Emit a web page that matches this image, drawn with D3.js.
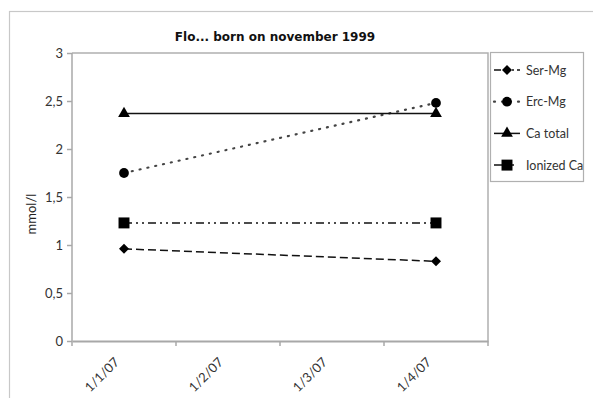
<!DOCTYPE html>
<html><head><meta charset="utf-8">
<script src="https://cdn.jsdelivr.net/npm/d3@7"></script>
<style>body{margin:0;background:#fff}svg{display:block}</style>
</head><body>
<svg id="c" width="593" height="398"></svg>
<script>
const categories = ["1/1/07", "1/2/07", "1/3/07", "1/4/07"];
const serMg = [{d:"1/1/07", v:0.96}, {d:"1/4/07", v:0.83}];
const ercMg = [{d:"1/1/07", v:1.75}, {d:"1/4/07", v:2.48}];
const caTotal = [{d:"1/1/07", v:2.37}, {d:"1/4/07", v:2.37}];
const ionizedCa = [{d:"1/1/07", v:1.23}, {d:"1/4/07", v:1.23}];
const yTicks = [0, 0.5, 1, 1.5, 2, 2.5, 3];
const seriesNames = ["Ser-Mg", "Erc-Mg", "Ca total", "Ionized Ca"];

const squareDiamond = {
  draw(ctx, size) {
    const r = Math.sqrt(size / 2);
    ctx.moveTo(0, -r); ctx.lineTo(r, 0); ctx.lineTo(0, r); ctx.lineTo(-r, 0); ctx.closePath();
  }
};

const series = [
  {name: seriesNames[0], data: serMg, dash: "8,4", sym: squareDiamond, size: 50, width: 1.5, color: "#111"},
  {name: seriesNames[1], data: ercMg, dash: "1,7", sym: d3.symbolCircle, size: 75, width: 2.2, color: "#444", cap: "round"},
  {name: seriesNames[2], data: caTotal, dash: null, sym: d3.symbolTriangle, size: 60, width: 1.5, color: "#111"},
  {name: seriesNames[3], data: ionizedCa, dash: "8,4,2,4,2,4", sym: d3.symbolSquare, size: 120, width: 1.5, color: "#111"}
];

const svg = d3.select("#c");
const font = "Lato, 'Open Sans', sans-serif";
const L = 72, R = 488, T = 53, B = 341;

svg.append("rect").attr("x", 9.5).attr("y", 11.5).attr("width", 600).attr("height", 400)
  .attr("fill", "none").attr("stroke", "#c8c8c8").attr("stroke-width", 1.2);

const x = d3.scaleBand().domain(categories).range([L, R]);
const y = d3.scaleLinear().domain([0, 3]).range([B, T]);

svg.append("path").attr("d", `M${L},${T}H${R}V${B}`).attr("fill", "none")
  .attr("stroke", "#b0b0b0").attr("stroke-width", 1.5);

const yAxis = svg.append("g").attr("transform", `translate(${L},0)`)
  .call(d3.axisLeft(y).tickValues(yTicks).tickSize(5).tickPadding(4)
    .tickFormat(d => String(d).replace(".", ",")));
yAxis.selectAll("line,path").attr("stroke", "#a8a8a8").attr("stroke-width", 1.5);
yAxis.selectAll("text").attr("font-family", font).attr("font-size", 13).attr("fill", "#333");
yAxis.select(".domain").attr("d", `M0,${B}V${T}`);

const xAxis = svg.append("g").attr("transform", `translate(0,${B})`)
  .call(d3.axisBottom(x).tickSize(0).tickPadding(0));
xAxis.select(".domain").attr("stroke", "#a8a8a8").attr("stroke-width", 2);
const bounds = categories.map(c => x(c)).concat([R]);
xAxis.selectAll("line.bt").data(bounds).enter().append("line").attr("class", "bt")
  .attr("x1", d => d).attr("x2", d => d).attr("y1", 0).attr("y2", 5)
  .attr("stroke", "#a8a8a8").attr("stroke-width", 1.5);
xAxis.selectAll(".tick text")
  .attr("font-family", font).attr("font-size", 13).attr("fill", "#333")
  .attr("text-anchor", "end").attr("dy", 0)
  .attr("transform", "translate(-4,22) rotate(-45)");

svg.append("text").attr("x", 275).attr("y", 41).attr("text-anchor", "middle")
  .attr("font-family", "'DejaVu Sans', Verdana, sans-serif").attr("font-weight", "bold")
  .attr("font-size", 12).attr("fill", "#111").text("Flo... born on november 1999");

svg.append("text").attr("transform", "translate(36,214) rotate(-90)").attr("text-anchor", "middle")
  .attr("font-family", font).attr("font-size", 13).attr("fill", "#222").text("mmol/l");

const cx = d => x(d.d) + x.bandwidth() / 2;
const line = d3.line().x(cx).y(d => y(d.v));

series.forEach(s => {
  const p = svg.append("path").datum(s.data).attr("d", line).attr("fill", "none")
    .attr("stroke", s.color).attr("stroke-width", s.width);
  if (s.dash) p.attr("stroke-dasharray", s.dash);
  if (s.cap) p.attr("stroke-linecap", s.cap);
  svg.selectAll(null).data(s.data).enter().append("path")
    .attr("d", d3.symbol().type(s.sym).size(s.size))
    .attr("transform", d => `translate(${cx(d)},${y(d.v)})`)
    .attr("fill", "#000");
});

const lg = svg.append("g");
lg.append("rect").attr("x", 490.5).attr("y", 52.5).attr("width", 93).attr("height", 129)
  .attr("fill", "#fff").attr("stroke", "#b0b0b0").attr("stroke-width", 1.2);
const legendDash = ["7,4,4,3,2,3", "1,7", null, "9,9,2,9"];
series.forEach((s, i) => {
  const yy = 70 + i * 31.7;
  const l = lg.append("line").attr("x1", 494).attr("x2", 520).attr("y1", yy).attr("y2", yy)
    .attr("stroke", s.color).attr("stroke-width", s.width);
  if (legendDash[i]) l.attr("stroke-dasharray", legendDash[i]);
  if (s.cap) l.attr("stroke-linecap", s.cap);
  lg.append("path").attr("d", d3.symbol().type(s.sym).size(s.size))
    .attr("transform", `translate(507,${yy})`).attr("fill", "#000");
  lg.append("text").attr("x", 526).attr("y", yy + 4.5).attr("font-family", font)
    .attr("font-size", 12.5).attr("fill", "#333").text(s.name);
});
</script>
</body></html>
